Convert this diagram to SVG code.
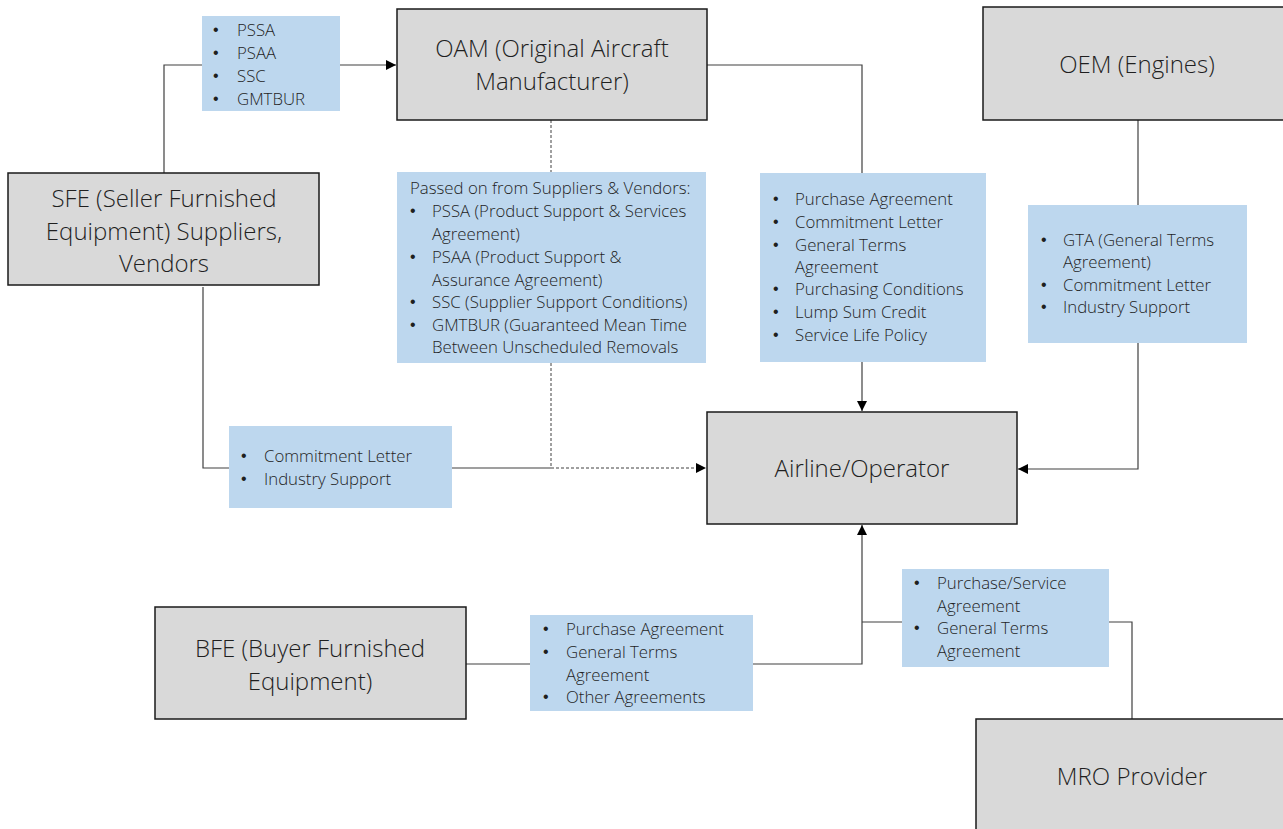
<svg xmlns="http://www.w3.org/2000/svg" width="1283" height="829" viewBox="0 0 1283 829">
<style>
.node{fill:#D9D9D9;stroke:#1a1a1a;stroke-width:1.5}
.lbl{fill:#BDD7EE}
.t{font-family:"Open Sans","Liberation Sans",sans-serif;font-weight:300;font-size:24px;fill:#1f1f1f;text-anchor:middle}
.s{font-family:"Open Sans","Liberation Sans",sans-serif;font-weight:300;font-size:16.8px;fill:#1f1f1f}
.b{font-family:"Liberation Sans",sans-serif;font-weight:400;font-size:16px;fill:#1f1f1f}
.c{fill:none;stroke:#404040;stroke-width:1.2}
.d{fill:none;stroke:#404040;stroke-width:1;stroke-dasharray:3 2}
</style>
<defs>
<marker id="ah" viewBox="0 0 10 10" refX="10" refY="5" markerWidth="10" markerHeight="10" markerUnits="userSpaceOnUse" orient="auto">
<path d="M0,0 L10,5 L0,10 z" fill="#000"/>
</marker>
</defs>
<rect width="1283" height="829" fill="#fff"/>
<g id="connectors">
<polyline class="c" points="164,173 164,65 202,65"/>
<line class="c" x1="340" y1="65" x2="396" y2="65" marker-end="url(#ah)"/>
<polyline class="c" points="707,65 862,65 862,173"/>
<line class="c" x1="862" y1="362" x2="862" y2="411" marker-end="url(#ah)"/>
<line class="c" x1="1138" y1="120" x2="1138" y2="205"/>
<polyline class="c" points="1138,343 1138,469 1018,469" marker-end="url(#ah)"/>
<polyline class="c" points="203,287 203,468 229,468"/>
<line class="c" x1="452" y1="468" x2="551" y2="468"/>
<line class="d" x1="551" y1="120" x2="551" y2="172"/>
<polyline class="d" points="551,363 551,468 706,468" marker-end="url(#ah)"/>
<line class="c" x1="466" y1="664" x2="530" y2="664"/>
<polyline class="c" points="753,664 862,664 862,525" marker-end="url(#ah)"/>
<line class="c" x1="862" y1="622" x2="902" y2="622"/>
<polyline class="c" points="1109,622 1132,622 1132,719"/>
</g>
<g id="oam">
<rect class="node" x="397" y="9" width="310" height="111"/>
<text class="t" x="552" y="57">OAM (Original Aircraft</text>
<text class="t" x="552" y="90">Manufacturer)</text>
</g>
<g id="sfe">
<rect class="node" x="8" y="173" width="311" height="112"/>
<text class="t" x="164" y="207">SFE (Seller Furnished</text>
<text class="t" x="164" y="240">Equipment) Suppliers,</text>
<text class="t" x="164" y="272">Vendors</text>
</g>
<g id="oem">
<rect class="node" x="983" y="7" width="310" height="113"/>
<text class="t" x="1137" y="73">OEM (Engines)</text>
</g>
<g id="airline">
<rect class="node" x="707" y="412" width="310" height="112"/>
<text class="t" x="862" y="477">Airline/Operator</text>
</g>
<g id="bfe">
<rect class="node" x="155" y="607" width="311" height="112"/>
<text class="t" x="310" y="657">BFE (Buyer Furnished</text>
<text class="t" x="310" y="690">Equipment)</text>
</g>
<g id="mro">
<rect class="node" x="976" y="719" width="320" height="120"/>
<text class="t" x="1132" y="785">MRO Provider</text>
</g>
<g id="label-sfe-oam">
<rect class="lbl" x="202" y="16" width="138" height="95"/>
<text class="b"><tspan x="213" y="35">•</tspan><tspan x="213" y="58">•</tspan><tspan x="213" y="81">•</tspan><tspan x="213" y="104">•</tspan></text>
<text class="s"><tspan x="237" y="36">PSSA</tspan><tspan x="237" y="59">PSAA</tspan><tspan x="237" y="82">SSC</tspan><tspan x="237" y="105">GMTBUR</tspan></text>
</g>
<g id="label-passed">
<rect class="lbl" x="397" y="172" width="309" height="191"/>
<text class="b"><tspan x="410" y="216">•</tspan><tspan x="410" y="262">•</tspan><tspan x="410" y="307">•</tspan><tspan x="410" y="330">•</tspan></text>
<text class="s"><tspan x="410" y="194">Passed on from Suppliers &amp; Vendors:</tspan><tspan x="432" y="217">PSSA (Product Support &amp; Services</tspan><tspan x="432" y="240">Agreement)</tspan><tspan x="432" y="263">PSAA (Product Support &amp;</tspan><tspan x="432" y="286">Assurance Agreement)</tspan><tspan x="432" y="308">SSC (Supplier Support Conditions)</tspan><tspan x="432" y="331">GMTBUR (Guaranteed Mean Time</tspan><tspan x="432" y="353">Between Unscheduled Removals</tspan></text>
</g>
<g id="label-oam-airline">
<rect class="lbl" x="760" y="173" width="226" height="189"/>
<text class="b"><tspan x="773" y="204">•</tspan><tspan x="773" y="227">•</tspan><tspan x="773" y="250">•</tspan><tspan x="773" y="294">•</tspan><tspan x="773" y="317">•</tspan><tspan x="773" y="340">•</tspan></text>
<text class="s"><tspan x="795" y="205">Purchase Agreement</tspan><tspan x="795" y="228">Commitment Letter</tspan><tspan x="795" y="251">General Terms</tspan><tspan x="795" y="273">Agreement</tspan><tspan x="795" y="295">Purchasing Conditions</tspan><tspan x="795" y="318">Lump Sum Credit</tspan><tspan x="795" y="341">Service Life Policy</tspan></text>
</g>
<g id="label-oem-airline">
<rect class="lbl" x="1028" y="205" width="219" height="138"/>
<text class="b"><tspan x="1041" y="245">•</tspan><tspan x="1041" y="290">•</tspan><tspan x="1041" y="312">•</tspan></text>
<text class="s"><tspan x="1063" y="246">GTA (General Terms</tspan><tspan x="1063" y="268">Agreement)</tspan><tspan x="1063" y="291">Commitment Letter</tspan><tspan x="1063" y="313">Industry Support</tspan></text>
</g>
<g id="label-sfe-airline">
<rect class="lbl" x="229" y="426" width="223" height="82"/>
<text class="b"><tspan x="241" y="461">•</tspan><tspan x="241" y="484">•</tspan></text>
<text class="s"><tspan x="264" y="462">Commitment Letter</tspan><tspan x="264" y="485">Industry Support</tspan></text>
</g>
<g id="label-bfe-airline">
<rect class="lbl" x="530" y="615" width="223" height="96"/>
<text class="b"><tspan x="543" y="634">•</tspan><tspan x="543" y="657">•</tspan><tspan x="543" y="702">•</tspan></text>
<text class="s"><tspan x="566" y="635">Purchase Agreement</tspan><tspan x="566" y="658">General Terms</tspan><tspan x="566" y="681">Agreement</tspan><tspan x="566" y="703">Other Agreements</tspan></text>
</g>
<g id="label-mro-airline">
<rect class="lbl" x="902" y="569" width="207" height="98"/>
<text class="b"><tspan x="914" y="588">•</tspan><tspan x="914" y="633">•</tspan></text>
<text class="s"><tspan x="937" y="589">Purchase/Service</tspan><tspan x="937" y="612">Agreement</tspan><tspan x="937" y="634">General Terms</tspan><tspan x="937" y="657">Agreement</tspan></text>
</g>
</svg>
